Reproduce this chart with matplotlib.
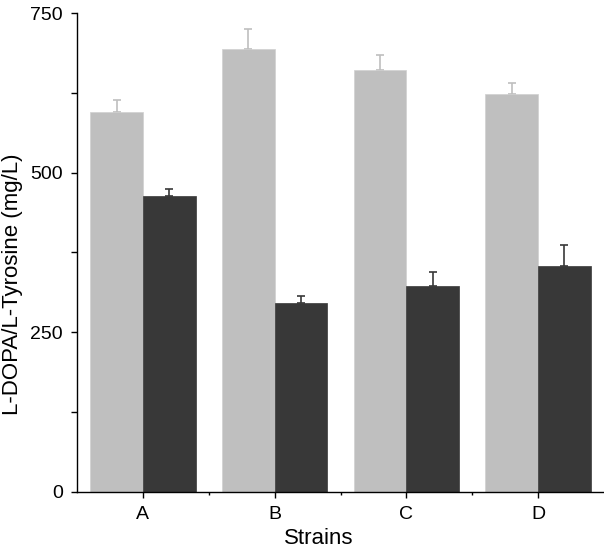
import matplotlib
matplotlib.use("Agg")
import matplotlib.pyplot as plt
import numpy as np
from matplotlib.ticker import MultipleLocator, FixedLocator

plt.rcParams['font.family'] = ['Liberation Sans', 'DejaVu Sans']

strains = ["A", "B", "C", "D"]
ldopa = [595, 693, 660, 623]
ldopa_err = [19, 32, 24, 18]
tyrosine = [463, 295, 322, 353]
tyrosine_err = [12, 11, 22, 34]
yticks = [0, 250, 500, 750]

light = "#bfbfbf"
dark = "#383838"

fig = plt.figure(figsize=(6.04, 5.52), dpi=100)
ax = fig.add_axes([77/604, (552-491.7)/552, 1 - 77/604, (491.7-13)/552])

x = np.arange(len(strains))
w = 0.4
ax.bar(x - w/2, ldopa, w, color=light, edgecolor="#d0d0d0", linewidth=0.5, zorder=2)
ax.errorbar(x - w/2, ldopa, yerr=[np.zeros(4), ldopa_err], fmt='none',
            ecolor=light, elinewidth=1.2, capsize=3, capthick=1.2, zorder=1)
ax.bar(x + w/2, tyrosine, w, color=dark, edgecolor=dark, linewidth=0.5, zorder=2)
ax.errorbar(x + w/2, tyrosine, yerr=[np.zeros(4), tyrosine_err], fmt='none',
            ecolor=dark, elinewidth=1.2, capsize=3, capthick=1.2, zorder=1)

ax.set_xlim(-0.5, 3.5)
ax.set_ylim(0, 750)
ax.set_yticks(yticks)
ax.yaxis.set_minor_locator(MultipleLocator(125))
ax.set_xticks(x)
ax.set_xticklabels(strains)
ax.xaxis.set_minor_locator(FixedLocator([0.5, 1.5, 2.5]))

for s in ["top", "right"]:
    ax.spines[s].set_visible(False)
for s in ["left", "bottom"]:
    ax.spines[s].set_linewidth(1.0)

ax.tick_params(axis='y', which='major', direction='out', length=4, width=1, labelsize=14, pad=6)
ax.tick_params(axis='y', which='minor', direction='out', length=4, width=1)
ax.tick_params(axis='x', which='major', direction='out', length=4, width=1, labelsize=14, pad=6)
ax.tick_params(axis='x', which='minor', direction='out', length=2.5, width=1)

ax.set_xlabel("Strains", fontsize=16)
ax.set_ylabel("L-DOPA/L-Tyrosine (mg/L)", fontsize=16)
ax.xaxis.set_label_coords((319 - 77) / 527, (491.7 - 549) / 478.7)
ax.yaxis.set_label_coords(-(77 - 2) / 527, (491.7 - 284) / 478.7)
ax.xaxis.label.set_va('bottom')
ax.yaxis.label.set_va('top')

fig.savefig("out.png", dpi=100)
